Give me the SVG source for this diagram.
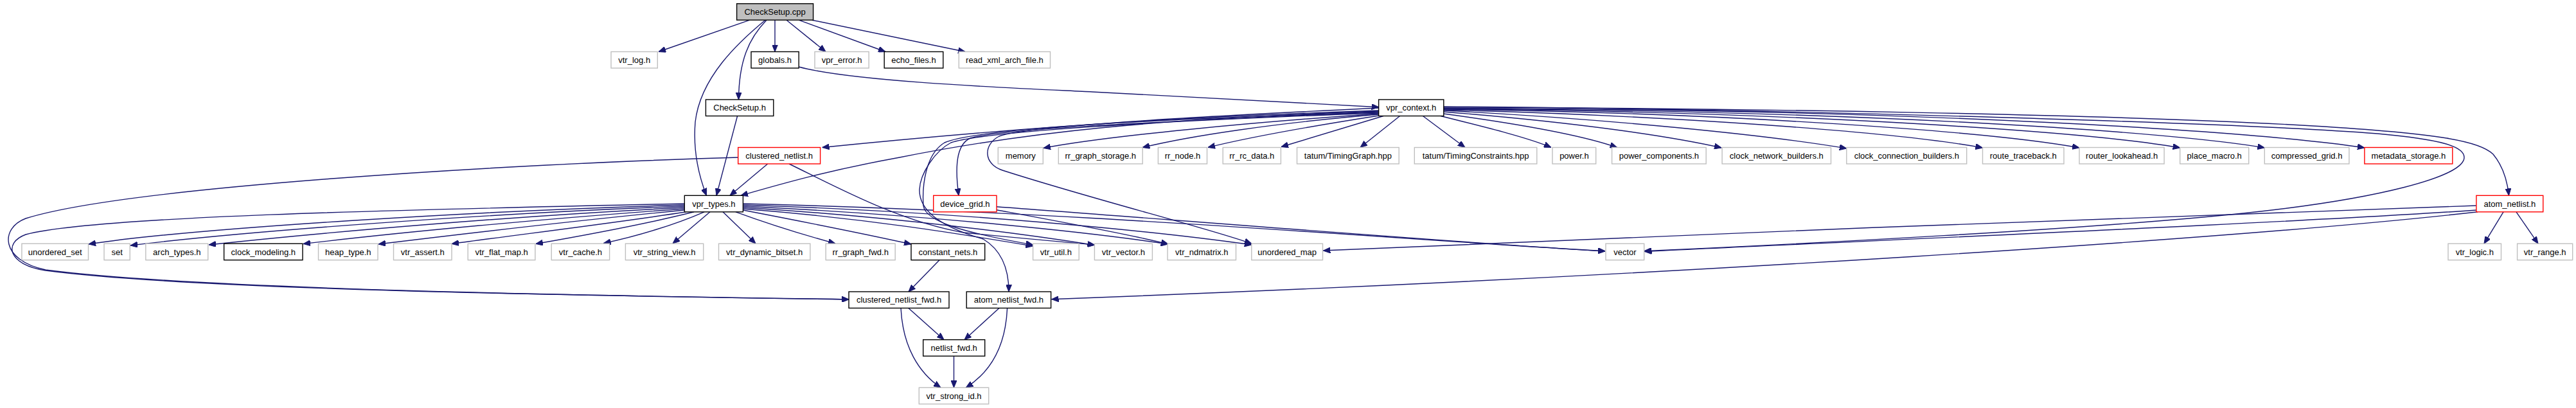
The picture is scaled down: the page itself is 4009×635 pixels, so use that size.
<svg xmlns="http://www.w3.org/2000/svg" width="4009" height="635" viewBox="0 0 4009 635">
<defs>
<marker id="ah" viewBox="0 0 11 9" refX="11" refY="4.5" markerWidth="11" markerHeight="9" markerUnits="userSpaceOnUse" orient="auto"><path d="M0,0 L11,4.5 L0,9 z" fill="#191970" stroke="#191970" stroke-width="1"/></marker>
<style>
rect{fill:#fff;stroke-width:1.4}
.g{stroke:#bfbfbf}
.b{stroke:#000}
.r{stroke:#ff0000}
.root{fill:#bfbfbf;stroke:#000}
text{font-family:"Liberation Sans",Arial,sans-serif;font-size:13px;text-anchor:middle;fill:#000}
#edges path{fill:none;stroke:#191970;stroke-width:1.4;marker-end:url(#ah)}
</style>
</defs>
<rect width="4009" height="635" fill="#fff" stroke="none"/>
<g id="edges">
<path d="M1167,31.2 L1025,80.5"/>
<path d="M1191,31.2 C1150,65 1090,120 1082,190 C1078,240 1090,280 1099.5,304.3"/>
<path d="M1193,31.2 C1165,60 1150,95 1149.5,155"/>
<path d="M1206,31.2 L1206,80.5"/>
<path d="M1224,31.2 L1285,80.5"/>
<path d="M1243,31.2 L1378,80.5"/>
<path d="M1263.5,31.2 L1502,80.5"/>
<path d="M1243,104 C1330,128 1600,138 1700,143 L2145.6,166.7"/>
<path d="M1147.6,180.5 L1115,304.3"/>
<path d="M2145.6,172 C1900,180 1650,192 1279.6,229.5"/>
<path d="M2145.6,173 C1800,185 1600,205 1400,245 C1290,265 1220,285 1153,304.3"/>
<path d="M2145.6,177 C1950,190 1720,212 1624,230.5"/>
<path d="M2145.6,178 C1980,192 1850,212 1778.2,229.5"/>
<path d="M2145.6,180 C2050,195 1950,212 1880,229.5"/>
<path d="M2153,180.5 L1994,228.5"/>
<path d="M2178.6,180.5 L2117,229.5"/>
<path d="M2214.4,180.5 L2280,229.5"/>
<path d="M2242,180.5 C2320,200 2380,215 2414,229.5"/>
<path d="M2246.8,177 C2380,195 2470,213 2516.6,229.5"/>
<path d="M2246.8,174 C2450,190 2600,212 2679,230"/>
<path d="M2246.8,172 C2500,185 2750,210 2873.8,231"/>
<path d="M2246.8,171 C2600,180 2950,205 3085.5,230"/>
<path d="M2246.8,170 C2700,176 3100,205 3236,230"/>
<path d="M2246.8,169.5 C2800,174 3250,205 3392.7,230"/>
<path d="M2246.8,169 C2900,172 3380,205 3524.3,230"/>
<path d="M2246.8,168.5 C3000,170 3520,205 3679.9,230"/>
<path d="M2246.8,167 C2700,168 3300,178 3600,196 C3800,208 3860,220 3880,240 C3895,258 3902,280 3904.5,304.3"/>
<path d="M2246.8,166 C2800,170 3500,192 3700,208 C3800,217 3835,228 3835,245 C3835,275 3700,310 3493,331.7 C3250,357 2800,380 2558.7,390.7"/>
<path d="M2145.6,174 C1800,190 1560,200 1510,215 C1488,225 1486,260 1492,304.3"/>
<path d="M2145.6,175 C1800,185 1520,200 1470,222 C1440,240 1435,290 1437,320 C1440,345 1500,362 1607.6,381"/>
<path d="M2145.6,176 C1800,188 1530,205 1480,222 C1455,235 1432,270 1431,295 C1430,330 1470,355 1530,372 C1560,390 1570,420 1570,454"/>
<path d="M2145.6,168 C1900,180 1600,195 1555,212 C1530,225 1530,255 1560,265 C1700,310 1880,355 1947.8,379.2"/>
<path d="M1148.7,245 C800,255 200,290 40,340 C0,355 0,405 71,420 C300,450 900,460 1321,466"/>
<path d="M1194.7,255 L1136,304.3"/>
<path d="M1228,255 C1300,290 1400,345 1500,362 C1600,372 1650,376 1703.4,381"/>
<path d="M1065.3,317 C700,325 150,335 40,365 C5,378 12,412 71,421 C300,451 900,460 1321,466"/>
<path d="M1065.3,319 C750,328 300,355 138,380"/>
<path d="M1065.3,321 C760,332 380,360 203,382"/>
<path d="M1065.3,323 C800,336 500,362 325,381"/>
<path d="M1065.3,325 C850,340 620,362 472,379.5"/>
<path d="M1065.3,327 C900,343 720,364 589,380"/>
<path d="M1068,329.8 C950,348 800,366 703,379.5"/>
<path d="M1080,329.8 C1000,350 900,368 834,379.5"/>
<path d="M1096,329.8 C1050,350 990,368 939.5,378.5"/>
<path d="M1105,329.8 L1047,379"/>
<path d="M1125,329.8 L1176,379"/>
<path d="M1145,329.8 C1200,350 1260,368 1300,379"/>
<path d="M1156.4,327 C1250,345 1350,365 1418,380"/>
<path d="M1156.4,325 C1350,340 1500,365 1607.6,383"/>
<path d="M1156.4,323 C1400,338 1600,365 1703.4,381.5"/>
<path d="M1156.4,321 C1450,335 1700,362 1818,380"/>
<path d="M1156.4,319 C1500,330 1800,360 1947.8,381"/>
<path d="M1156.4,317 C1700,330 2200,375 2498,390.7"/>
<path d="M1551,321.7 C1800,340 2300,380 2498,391"/>
<path d="M1551,326.7 C1650,345 1760,365 1818,380"/>
<path d="M1462,404.7 L1414,454"/>
<path d="M3853.9,320 C3500,330 2500,370 2059.4,390"/>
<path d="M3853.9,327 C3600,345 2900,375 2559.5,391.5"/>
<path d="M3856,329.8 C3500,370 2600,430 1636.5,465.7"/>
<path d="M3896,329.8 L3866,379.2"/>
<path d="M3916,329.8 L3950,379.2"/>
<path d="M1413.8,479.5 L1469,528.7"/>
<path d="M1402,479.5 C1405,540 1430,580 1464,603.3"/>
<path d="M1555,479.5 L1501,528.7"/>
<path d="M1567.6,479.5 C1565,540 1540,580 1503.3,603.3"/>
<path d="M1484.5,554.2 L1484.5,603.3"/>
</g>
<g id="n_CheckSetup_cpp"><rect class="root" x="1146.6" y="5.7" width="119" height="25.5"/><text x="1206.1" y="23">CheckSetup.cpp</text></g>
<g id="n_vtr_log"><rect class="g" x="951" y="80.5" width="72.3" height="25.5"/><text x="987.2" y="97.8">vtr_log.h</text></g>
<g id="n_globals"><rect class="b" x="1169" y="80.5" width="74.2" height="25.5"/><text x="1206.1" y="97.8">globals.h</text></g>
<g id="n_vpr_error"><rect class="g" x="1268" y="80.5" width="84.2" height="25.5"/><text x="1310.1" y="97.8">vpr_error.h</text></g>
<g id="n_echo_files"><rect class="b" x="1376.2" y="80.5" width="91.6" height="25.5"/><text x="1422" y="97.8">echo_files.h</text></g>
<g id="n_read_xml_arch_file"><rect class="g" x="1492.3" y="80.5" width="142.2" height="25.5"/><text x="1563.4" y="97.8">read_xml_arch_file.h</text></g>
<g id="n_CheckSetup_h"><rect class="b" x="1098.4" y="155" width="105.4" height="25.5"/><text x="1151.1" y="172.3">CheckSetup.h</text></g>
<g id="n_vpr_context"><rect class="b" x="2145.6" y="155" width="101.2" height="25.5"/><text x="2196.2" y="172.3">vpr_context.h</text></g>
<g id="n_clustered_netlist"><rect class="r" x="1148.7" y="229.5" width="127.9" height="25.5"/><text x="1212.7" y="246.8">clustered_netlist.h</text></g>
<g id="n_memory"><rect class="g" x="1553.3" y="229.5" width="70" height="25.5"/><text x="1588.3" y="246.8">memory</text></g>
<g id="n_rr_graph_storage"><rect class="g" x="1647.3" y="229.5" width="130.9" height="25.5"/><text x="1712.8" y="246.8">rr_graph_storage.h</text></g>
<g id="n_rr_node"><rect class="g" x="1802.4" y="229.5" width="76.1" height="25.5"/><text x="1840.5" y="246.8">rr_node.h</text></g>
<g id="n_rr_rc_data"><rect class="g" x="1903.2" y="229.5" width="90.2" height="25.5"/><text x="1948.3" y="246.8">rr_rc_data.h</text></g>
<g id="n_TimingGraph"><rect class="g" x="2018.5" y="229.5" width="158.7" height="25.5"/><text x="2097.9" y="246.8">tatum/TimingGraph.hpp</text></g>
<g id="n_TimingConstraints"><rect class="g" x="2201.3" y="229.5" width="190.5" height="25.5"/><text x="2296.6" y="246.8">tatum/TimingConstraints.hpp</text></g>
<g id="n_power"><rect class="g" x="2416" y="229.5" width="67.7" height="25.5"/><text x="2449.9" y="246.8">power.h</text></g>
<g id="n_power_components"><rect class="g" x="2508.6" y="229.5" width="146.6" height="25.5"/><text x="2581.9" y="246.8">power_components.h</text></g>
<g id="n_clock_network_builders"><rect class="g" x="2680.1" y="229.5" width="169.4" height="25.5"/><text x="2764.8" y="246.8">clock_network_builders.h</text></g>
<g id="n_clock_connection_builders"><rect class="g" x="2873.8" y="229.5" width="186.9" height="25.5"/><text x="2967.3" y="246.8">clock_connection_builders.h</text></g>
<g id="n_route_traceback"><rect class="g" x="3085.5" y="229.5" width="126.5" height="25.5"/><text x="3148.8" y="246.8">route_traceback.h</text></g>
<g id="n_router_lookahead"><rect class="g" x="3236" y="229.5" width="132.1" height="25.5"/><text x="3302.1" y="246.8">router_lookahead.h</text></g>
<g id="n_place_macro"><rect class="g" x="3392.7" y="229.5" width="107" height="25.5"/><text x="3446.2" y="246.8">place_macro.h</text></g>
<g id="n_compressed_grid"><rect class="g" x="3524.3" y="229.5" width="131.6" height="25.5"/><text x="3590.1" y="246.8">compressed_grid.h</text></g>
<g id="n_metadata_storage"><rect class="r" x="3679.9" y="229.5" width="136.9" height="25.5"/><text x="3748.4" y="246.8">metadata_storage.h</text></g>
<g id="n_vpr_types"><rect class="b" x="1065.3" y="304.3" width="91.1" height="25.5"/><text x="1110.9" y="321.6">vpr_types.h</text></g>
<g id="n_device_grid"><rect class="r" x="1452.7" y="304.3" width="98.3" height="25.5"/><text x="1501.9" y="321.6">device_grid.h</text></g>
<g id="n_atom_netlist"><rect class="r" x="3853.9" y="304.3" width="103.9" height="25.5"/><text x="3905.9" y="321.6">atom_netlist.h</text></g>
<g id="n_unordered_set"><rect class="g" x="33.9" y="379.2" width="103.6" height="25.5"/><text x="85.7" y="396.5">unordered_set</text></g>
<g id="n_set"><rect class="g" x="162" y="379.2" width="40.2" height="25.5"/><text x="182.1" y="396.5">set</text></g>
<g id="n_arch_types"><rect class="g" x="226.8" y="379.2" width="96.9" height="25.5"/><text x="275.3" y="396.5">arch_types.h</text></g>
<g id="n_clock_modeling"><rect class="b" x="348.6" y="379.2" width="122.4" height="25.5"/><text x="409.8" y="396.5">clock_modeling.h</text></g>
<g id="n_heap_type"><rect class="g" x="495.5" y="379.2" width="92.5" height="25.5"/><text x="541.8" y="396.5">heap_type.h</text></g>
<g id="n_vtr_assert"><rect class="g" x="612.5" y="379.2" width="90.5" height="25.5"/><text x="657.8" y="396.5">vtr_assert.h</text></g>
<g id="n_vtr_flat_map"><rect class="g" x="728.2" y="379.2" width="104.7" height="25.5"/><text x="780.6" y="396.5">vtr_flat_map.h</text></g>
<g id="n_vtr_cache"><rect class="g" x="858.2" y="379.2" width="90.4" height="25.5"/><text x="903.4" y="396.5">vtr_cache.h</text></g>
<g id="n_vtr_string_view"><rect class="g" x="973.4" y="379.2" width="121.3" height="25.5"/><text x="1034.1" y="396.5">vtr_string_view.h</text></g>
<g id="n_vtr_dynamic_bitset"><rect class="g" x="1118.5" y="379.2" width="142.4" height="25.5"/><text x="1189.7" y="396.5">vtr_dynamic_bitset.h</text></g>
<g id="n_rr_graph_fwd"><rect class="g" x="1285.2" y="379.2" width="108" height="25.5"/><text x="1339.2" y="396.5">rr_graph_fwd.h</text></g>
<g id="n_constant_nets"><rect class="b" x="1418" y="379.2" width="114.7" height="25.5"/><text x="1475.4" y="396.5">constant_nets.h</text></g>
<g id="n_vtr_util"><rect class="g" x="1607.6" y="379.2" width="71.6" height="25.5"/><text x="1643.4" y="396.5">vtr_util.h</text></g>
<g id="n_vtr_vector"><rect class="g" x="1703.4" y="379.2" width="90" height="25.5"/><text x="1748.4" y="396.5">vtr_vector.h</text></g>
<g id="n_vtr_ndmatrix"><rect class="g" x="1817" y="379.2" width="106.5" height="25.5"/><text x="1870.3" y="396.5">vtr_ndmatrix.h</text></g>
<g id="n_unordered_map"><rect class="g" x="1947.8" y="379.2" width="110.7" height="25.5"/><text x="2003.2" y="396.5">unordered_map</text></g>
<g id="n_vector"><rect class="g" x="2499" y="379.2" width="59.7" height="25.5"/><text x="2528.9" y="396.5">vector</text></g>
<g id="n_vtr_logic"><rect class="g" x="3810" y="379.2" width="82.5" height="25.5"/><text x="3851.3" y="396.5">vtr_logic.h</text></g>
<g id="n_vtr_range"><rect class="g" x="3917.6" y="379.2" width="86.1" height="25.5"/><text x="3960.7" y="396.5">vtr_range.h</text></g>
<g id="n_clustered_netlist_fwd"><rect class="b" x="1321" y="454" width="156" height="25.5"/><text x="1399" y="471.3">clustered_netlist_fwd.h</text></g>
<g id="n_atom_netlist_fwd"><rect class="b" x="1504.2" y="454" width="131.4" height="25.5"/><text x="1569.9" y="471.3">atom_netlist_fwd.h</text></g>
<g id="n_netlist_fwd"><rect class="b" x="1436.7" y="528.7" width="96" height="25.5"/><text x="1484.7" y="546">netlist_fwd.h</text></g>
<g id="n_vtr_strong_id"><rect class="g" x="1430.3" y="603.3" width="108.4" height="25.5"/><text x="1484.5" y="620.6">vtr_strong_id.h</text></g>
</svg>
